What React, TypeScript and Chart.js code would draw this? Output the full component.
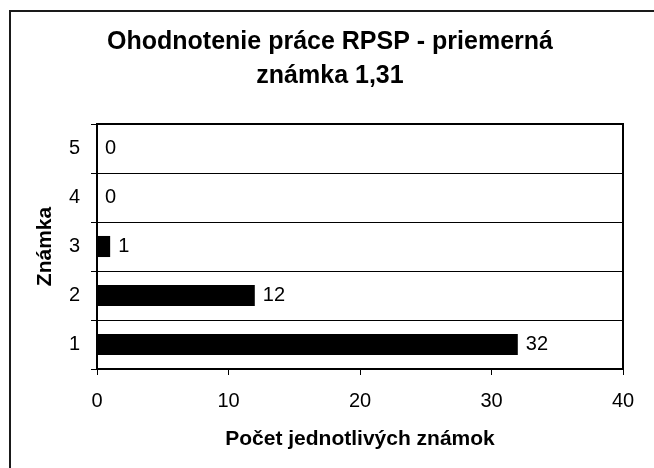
import React, { useEffect, useRef } from "react";
import { Chart, registerables } from "chart.js";

Chart.register(...registerables);

const categories = ["5", "4", "3", "2", "1"];
const counts = [0, 0, 1, 12, 32];
const xTicks = [0, 10, 20, 30, 40];
const titleLines = ["Ohodnotenie práce RPSP - priemerná", "známka 1,31"];
const xTitle = "Počet jednotlivých známok";
const yTitle = "Známka";

const FONT = "'Liberation Sans', Arial, sans-serif";

const framePlugin = {
  id: "frame",
  beforeDraw(chart: any) {
    const { ctx, width, height } = chart;
    ctx.save();
    ctx.fillStyle = "#ffffff";
    ctx.fillRect(0, 0, width, height);
    ctx.strokeStyle = "#1a1a1a";
    ctx.lineWidth = 2;
    ctx.beginPath();
    ctx.moveTo(10, height + 2);
    ctx.lineTo(10, 11);
    ctx.lineTo(width + 2, 11);
    ctx.stroke();
    ctx.restore();
  },
  afterDraw(chart: any) {
    const { ctx, chartArea } = chart;
    ctx.save();
    ctx.strokeStyle = "#000";
    ctx.lineWidth = 2;
    ctx.strokeRect(chartArea.left, chartArea.top, chartArea.right - chartArea.left, chartArea.bottom - chartArea.top);
    ctx.restore();
  },
};

const labelPlugin = {
  id: "valueLabels",
  afterDatasetsDraw(chart: any) {
    const { ctx } = chart;
    const meta = chart.getDatasetMeta(0);
    const data = chart.data.datasets[0].data;
    ctx.save();
    ctx.font = `20px ${FONT}`;
    ctx.fillStyle = "#000";
    ctx.textAlign = "left";
    ctx.textBaseline = "middle";
    meta.data.forEach((el: any, i: number) => {
      ctx.fillText(String(data[i]), el.x + 8, el.y);
    });
    ctx.restore();
  },
};

export default function App() {
  const ref = useRef<HTMLCanvasElement>(null);
  useEffect(() => {
    const chart = new Chart(ref.current!, {
      type: "bar",
      data: {
        labels: categories,
        datasets: [
          {
            data: counts,
            backgroundColor: "#000",
            borderWidth: 0,
            barPercentage: 0.43,
            categoryPercentage: 1,
          },
        ],
      },
      options: {
        indexAxis: "y",
        animation: false,
        responsive: false,
        events: [],
        layout: { padding: { left: 6, right: 0, top: 0, bottom: 0 } },
        plugins: {
          legend: { display: false },
          tooltip: { enabled: false },
          title: {
            display: true,
            text: titleLines,
            color: "#000",
            font: { family: FONT, size: 25, weight: "bold", lineHeight: 34 / 25 },
            padding: { top: 25.3, bottom: 30.7 },
          },
        },
        scales: {
          x: {
            min: 0,
            max: 40,
            afterBuildTicks(scale: any) {
              scale.ticks = xTicks.map((v) => ({ value: v }));
            },
            afterFit(scale: any) {
              scale.height = 99;
            },
            border: { display: false },
            grid: { drawOnChartArea: false, drawTicks: true, tickLength: 6, color: "#000", lineWidth: 1 },
            ticks: { color: "#000", padding: 14, font: { family: FONT, size: 20 } },
            title: {
              display: true,
              text: xTitle,
              color: "#000",
              font: { family: FONT, size: 21, weight: "bold" },
              padding: { top: 0, bottom: 16.4 },
            },
          },
          y: {
            afterFit(scale: any) {
              scale.width = 91;
            },
            border: { display: false },
            grid: { offset: true, drawTicks: true, tickLength: 6, color: "#000", lineWidth: 1 },
            ticks: { color: "#000", padding: 11, font: { family: FONT, size: 20 } },
            title: {
              display: true,
              text: yTitle,
              color: "#000",
              font: { family: FONT, size: 21, weight: "bold" },
              padding: { top: 26.4, bottom: 0 },
            },
          },
          spacer: {
            type: "linear",
            position: "right",
            display: true,
            afterFit(scale: any) {
              scale.width = 31;
            },
            border: { display: false },
            grid: { display: false, drawTicks: false },
            ticks: { display: false },
          },
        },
      },
      plugins: [framePlugin, labelPlugin],
    } as any);
    return () => chart.destroy();
  }, []);
  return (
    <div style={{ position: "fixed", left: 0, top: 0, width: 654, height: 468, background: "#fff" }}>
      <canvas ref={ref} width={654} height={468} style={{ display: "block" }} />
    </div>
  );
}
